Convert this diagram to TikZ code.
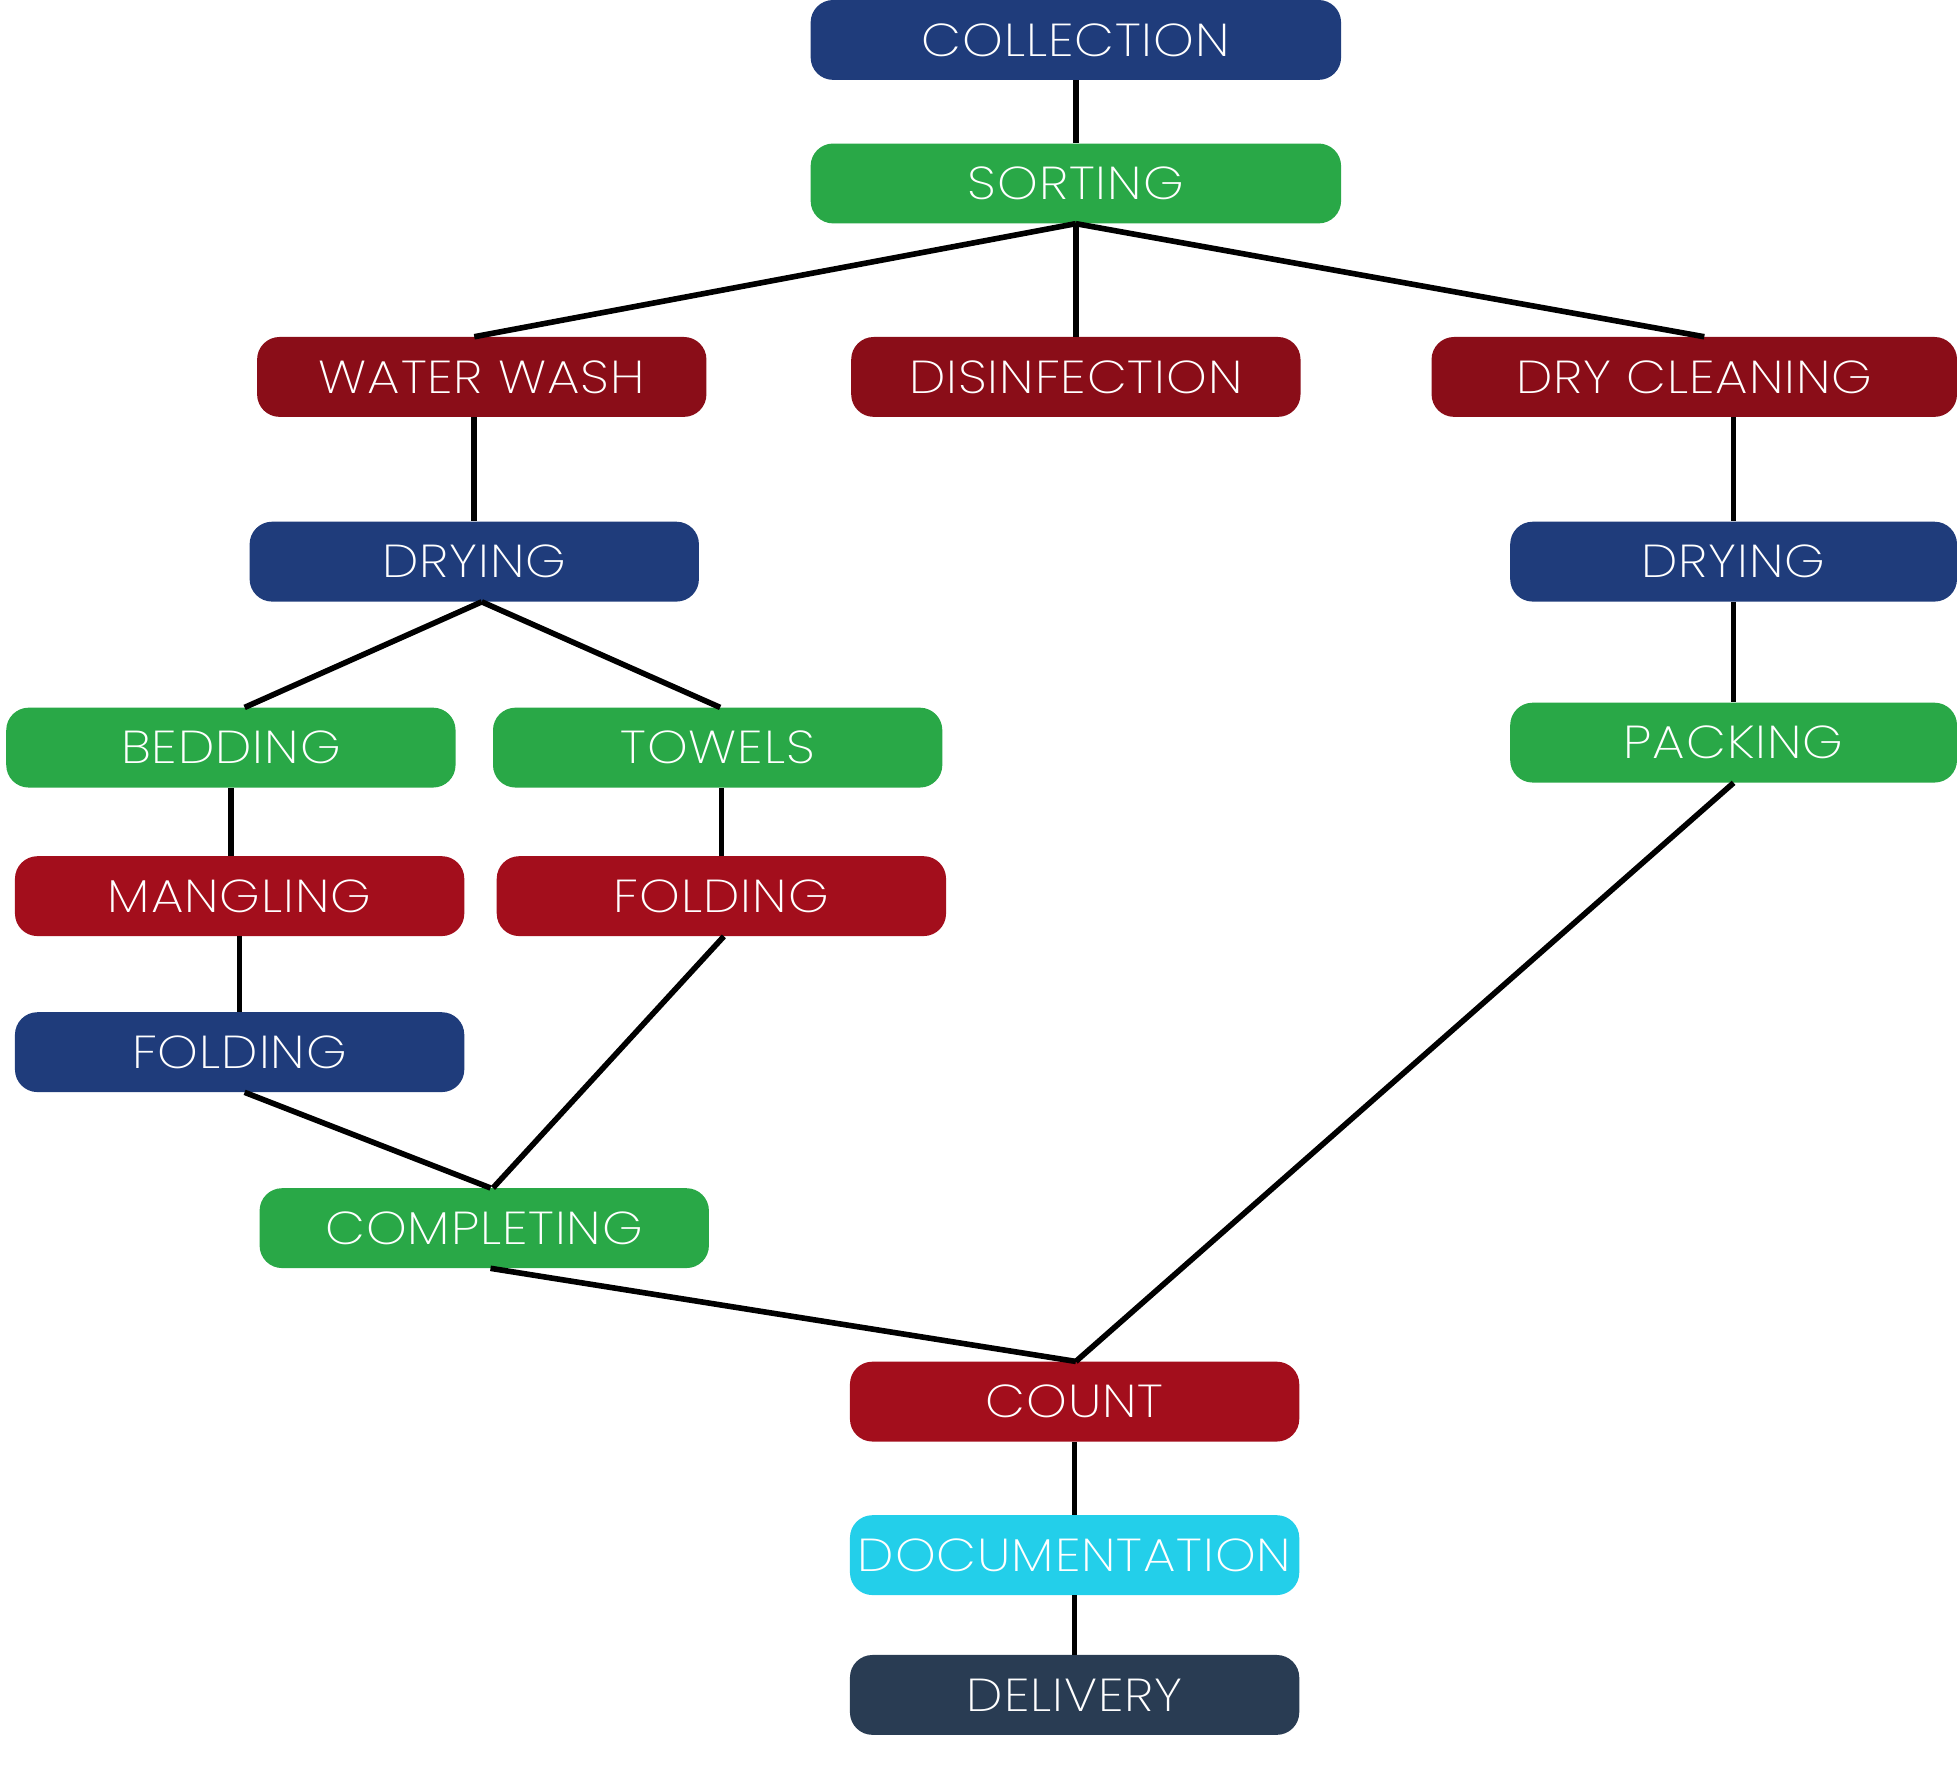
\documentclass[tikz,border=0pt]{standalone}
\usepackage{fontspec}
\setmainfont{Poppins}[UprightFont={* ExtraLight}, FakeStretch=1.12, LetterSpace=2]
\usepackage{tikz}
\usetikzlibrary{positioning}
\definecolor{lnblue}{HTML}{1F3C7B}
\definecolor{lngreen}{HTML}{29A847}
\definecolor{lndark}{HTML}{8A0D18}
\definecolor{lnred}{HTML}{A30E1C}
\definecolor{lncyan}{HTML}{23CFEA}
\definecolor{lnslate}{HTML}{293C53}

\begin{document}
\begin{tikzpicture}[x=1pt, y=-1pt,
  stage/.style={rounded corners=18pt, minimum width=360pt, minimum height=64pt,
    inner sep=0pt, text=white, font=\fontsize{37}{40}\selectfont},
  link/.style={line width=4.5pt}]

\useasboundingbox (0,0) rectangle (1568,1435);

% Top of the flow
\node[stage, fill=lnblue, minimum width=425pt] (collection) at (862,32) {COLLECTION};
\node[stage, fill=lngreen, minimum width=425pt] (sorting) at (862,147) {SORTING};

% Three cleaning routes
\node[stage, fill=lndark] (waterwash) at (386,302) {WATER WASH};
\node[stage, fill=lndark] (disinfection) at (862,302) {DISINFECTION};
\node[stage, fill=lndark, minimum width=421pt] (drycleaning) at (1357.5,302) {DRY CLEANING};

% Water wash branch
\node[stage, fill=lnblue] (dryingL) at (380,450) {DRYING};
\node[stage, fill=lngreen] (bedding) at (185,599) {BEDDING};
\node[stage, fill=lngreen] (towels) at (575,599) {TOWELS};
\node[stage, fill=lnred] (mangling) at (192,718) {MANGLING};
\node[stage, fill=lnred] (foldingR) at (578,718) {FOLDING};
\node[stage, fill=lnblue] (foldingB) at (192,843) {FOLDING};
\node[stage, fill=lngreen] (completing) at (388,984) {COMPLETING};

% Dry cleaning branch
\node[stage, fill=lnblue, minimum width=358pt] (dryingR) at (1389,450) {DRYING};
\node[stage, fill=lngreen, minimum width=358pt] (packing) at (1389,595) {PACKING};

% Bottom of the flow
\node[stage, fill=lnred] (count) at (861,1123) {COUNT};
\node[stage, fill=lncyan] (documentation) at (861,1246) {DOCUMENTATION};
\node[stage, fill=lnslate] (delivery) at (861,1358) {DELIVERY};

% Connectors
\draw[link] (collection) -- (sorting);
\draw[link] (sorting.south) -- ([xshift=-6pt]waterwash.north);
\draw[link] (sorting.south) -- (disinfection.north);
\draw[link] (sorting.south) -- ([xshift=8pt]drycleaning.north);
\draw[link] (waterwash.south -| dryingL) -- (dryingL.north);
\draw[link] (drycleaning.south -| dryingR) -- (dryingR.north);
\draw[link] (dryingR) -- (packing);
\draw[link] ([xshift=6pt]dryingL.south) -- ([xshift=11pt]bedding.north);
\draw[link] ([xshift=6pt]dryingL.south) -- ([xshift=2pt]towels.north);
\draw[link] (bedding.south) -- (bedding.south |- mangling.north);
\draw[link] (mangling.south) -- (foldingB.north);
\draw[link] (towels.south -| foldingR) -- (foldingR.north);
\draw[link] ([xshift=4pt]foldingB.south) -- ([xshift=5pt]completing.north);
\draw[link] ([xshift=2pt]foldingR.south) -- ([xshift=7pt]completing.north);
\draw[link] ([xshift=5pt]completing.south) -- ([xshift=1pt]count.north);
\draw[link] (packing.south) -- ([xshift=1pt]count.north);
\draw[link] (count) -- (documentation);
\draw[link] (documentation) -- (delivery);

\end{tikzpicture}
\end{document}
